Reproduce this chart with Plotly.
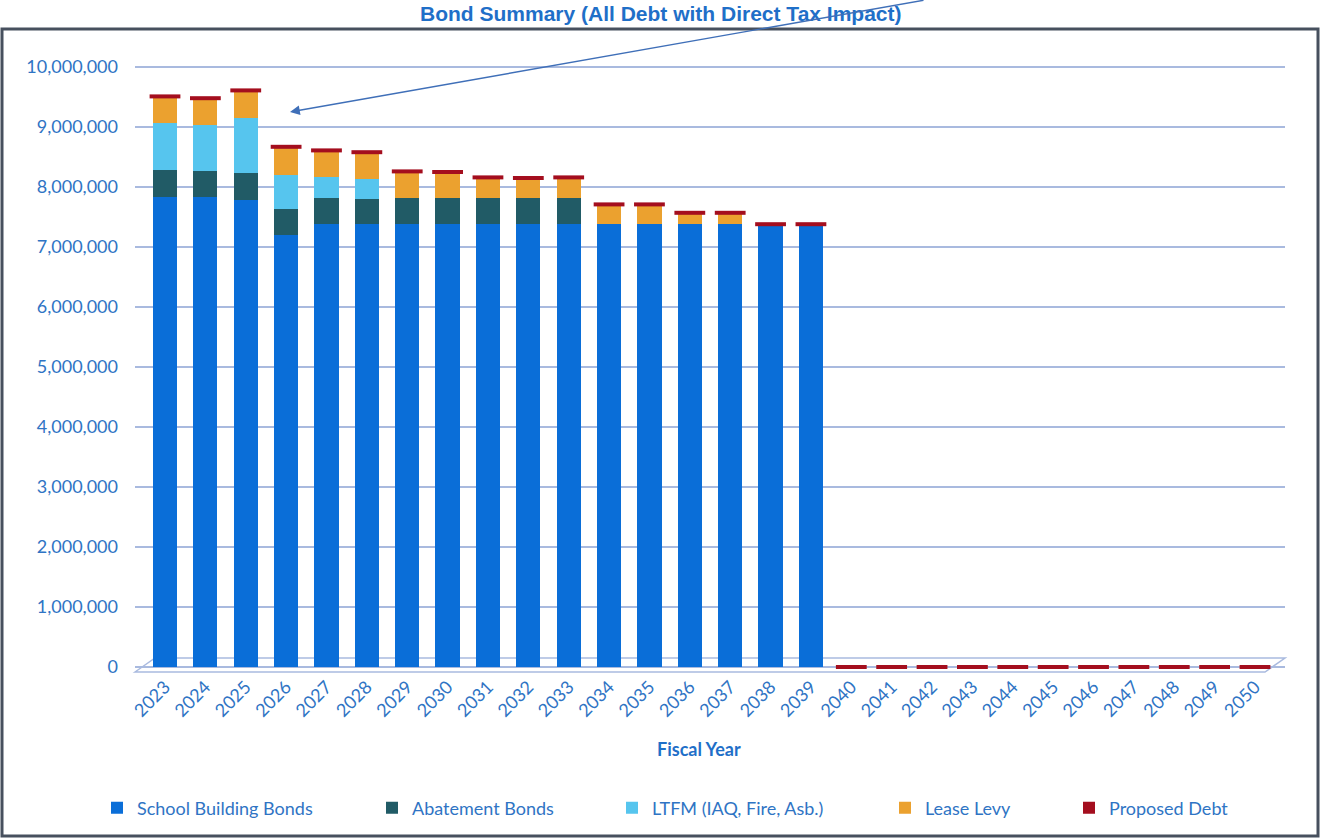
import plotly.graph_objects as go

# ---- data ----
years = list(range(2023, 2051))

school_building_bonds = [7830000, 7830000, 7790000, 7200000, 7380000, 7380000, 7380000,
                         7380000, 7380000, 7380000, 7380000, 7380000, 7380000, 7380000,
                         7380000, 7380000, 7380000] + [0] * 11
abatement_bonds = [450000, 440000, 450000, 430000, 430000, 420000, 440000, 440000,
                   440000, 440000, 440000] + [0] * 17
ltfm = [790000, 760000, 910000, 570000, 350000, 330000] + [0] * 22
lease_levy = [440000, 450000, 460000, 470000, 450000, 450000, 440000, 430000, 340000,
              330000, 340000, 330000, 330000, 190000, 190000, 0, 0] + [0] * 11
proposed_debt = [0] * 28

series = [
    ("School Building Bonds", school_building_bonds, "#0A6ED8"),
    ("Abatement Bonds", abatement_bonds, "#215B66"),
    ("LTFM (IAQ, Fire, Asb.)", ltfm, "#56C5EE"),
    ("Lease Levy", lease_levy, "#EBA12F"),
    ("Proposed Debt", proposed_debt, "#A40E1E"),
]

# ---- geometry helpers (pixel -> paper) ----
W, H = 1321, 839
L, R, T, B = 135, 36, 58, 167
PW, PH = W - L - R, H - T - B


def px(x):
    return (x - L) / PW


def py(y):
    return (H - B - y) / PH


BLUE_TXT = "#2F74C4"
GRID = "#A9BADF"
FONT = "Lato, 'Open Sans', sans-serif"

fig = go.Figure()

legend_x_text = [137, 412, 652, 925, 1109]
for i, (name, vals, color) in enumerate(series):
    fig.add_trace(go.Bar(
        x=years, y=vals, name=name,
        marker=dict(color=color, line=dict(width=0)),
        width=0.6,
        legend="legend" if i == 0 else f"legend{i + 1}",
    ))

# red cap on top of each stack (cylinder top), at the stack total
totals = [sum(v) for v in zip(school_building_bonds, abatement_bonds, ltfm, lease_levy, proposed_debt)]
fig.add_trace(go.Scatter(
    x=years, y=totals, mode="markers", showlegend=False, hoverinfo="skip",
    marker=dict(symbol="line-ew", size=22, color="#A40E1E",
                line=dict(color="#A40E1E", width=4)),
))

legends = {}
for i, xt in enumerate(legend_x_text):
    key = "legend" if i == 0 else f"legend{i + 1}"
    legends[key] = dict(
        x=px(xt - 40), y=py(808), xanchor="left", yanchor="middle",
        orientation="h", bgcolor="rgba(0,0,0,0)", itemwidth=30,
        font=dict(family=FONT, size=18, color=BLUE_TXT),
    )

shapes = [
    # chart border
    dict(type="rect", xref="paper", yref="paper",
         x0=px(2), x1=px(1318), y0=py(836), y1=py(29),
         line=dict(color="#47505E", width=3), layer="below"),
    # floor
    dict(type="path", xref="paper", yref="paper",
         path=f"M {px(135)} {py(672)} L {px(155)} {py(658)} L {px(1285)} {py(658)} "
              f"L {px(1265)} {py(672)} Z",
         line=dict(color=GRID, width=1.5), layer="below"),
]

annotations = [
    dict(text="<b>Bond Summary (All Debt with Direct Tax Impact)</b>",
         xref="paper", yref="paper", x=px(661), y=py(14),
         xanchor="center", yanchor="middle", showarrow=False,
         font=dict(family="Liberation Sans, Arial, sans-serif", size=21, color="#1F6FC8")),
    dict(text="<b>Fiscal Year</b>", xref="paper", yref="paper",
         x=px(699), y=py(749), xanchor="center", yanchor="middle", showarrow=False,
         font=dict(family=FONT, size=18, color="#1F6FC8")),
    dict(text="", xref="paper", yref="paper", x=px(290), y=py(112),
         ax=635, ay=-118, showarrow=True, arrowhead=2, arrowsize=1.4,
         arrowwidth=1.4, arrowcolor="#3F6FB8"),
]

fig.update_layout(
    width=W, height=H,
    margin=dict(l=L, r=R, t=T, b=B),
    paper_bgcolor="white", plot_bgcolor="white",
    barmode="stack",
    shapes=shapes, annotations=annotations,
    **legends,
    xaxis=dict(
        range=[2022.257, 2050.743], tickmode="array", tickvals=years,
        ticktext=[str(y) for y in years], tickangle=-45,
        tickfont=dict(family=FONT, size=18, color=BLUE_TXT),
        showgrid=False, zeroline=False, showline=False, ticks="",
    ),
    yaxis=dict(
        range=[-83333, 10150000], tickmode="array",
        tickvals=[i * 1000000 for i in range(11)],
        ticktext=[f"{i * 1000000:,}" for i in range(11)],
        tickfont=dict(family=FONT, size=18, color=BLUE_TXT),
        showgrid=True, gridcolor=GRID, gridwidth=1.5,
        zeroline=False, showline=False, ticks="", ticklabelstandoff=16,
    ),
)

fig.write_html("out.html")
